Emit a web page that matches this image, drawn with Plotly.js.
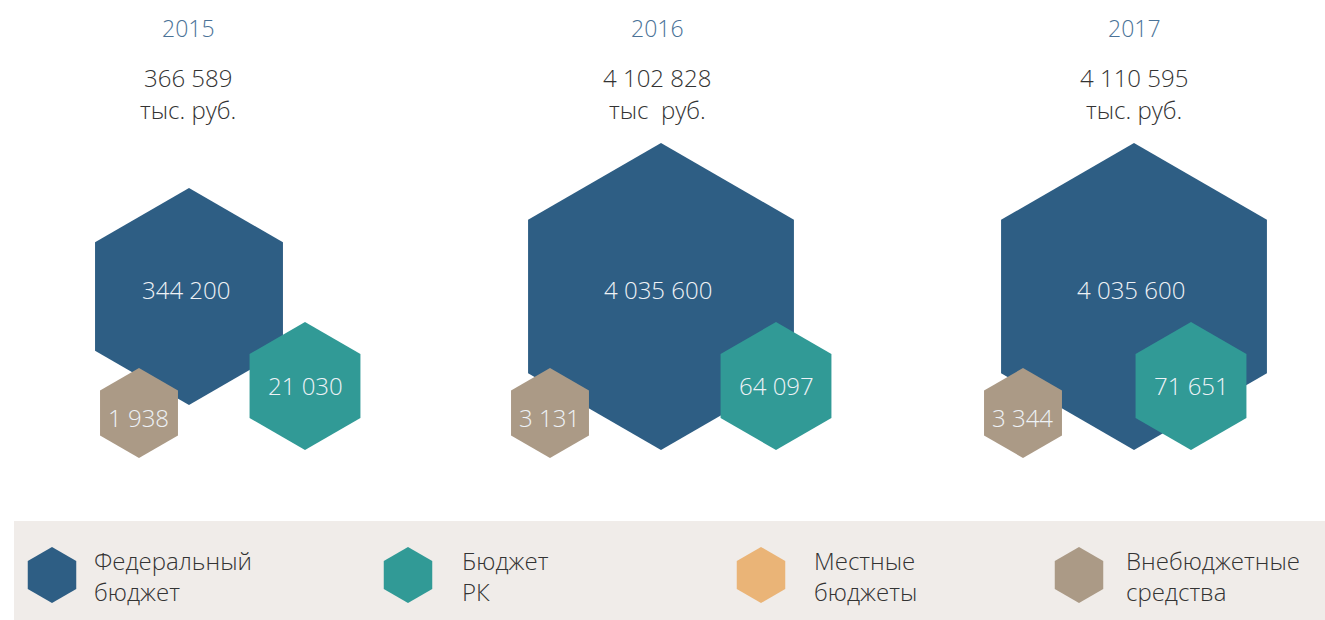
<!DOCTYPE html>
<html>
<head>
<meta charset="utf-8">
<script src="https://cdn.plot.ly/plotly-3.0.1.min.js"></script>
<style>
  html, body { margin: 0; padding: 0; background: #ffffff; }
  #chart { width: 1325px; height: 620px; }
</style>
</head>
<body>
<div id="chart"></div>
<script>
// Funding sources by year, thousand rubles
const years = ['2015', '2016', '2017'];
const totals = [366589, 4102828, 4110595];
const unitLabels = ['тыс. руб.', 'тыс  руб.', 'тыс. руб.'];
const federal = [344200, 4035600, 4035600];
const republic = [21030, 64097, 71651];
const offBudget = [1938, 3131, 3344];
const legendNames = ['Федеральный<br>бюджет', 'Бюджет<br>РК', 'Местные<br>бюджеты', 'Внебюджетные<br>средства'];

// Styling and placement (pixel coordinates on a 1325x620 canvas)
const FONT = '"Open Sans", "Noto Sans", sans-serif';
const colors = {
  federal: '#2e5e84',
  republic: '#319a96',
  local: '#eab477',
  offBudget: '#ab9a86',
  year: '#4a7297',
  text: '#333333',
  legendBg: '#f0ece9'
};
const legendColors = [colors.federal, colors.republic, colors.local, colors.offBudget];
const groupX = [188, 657, 1134];
const fedCenter = [{x: 189, y: 296.5, h: 217}, {x: 661, y: 296.5, h: 307}, {x: 1134, y: 296.5, h: 307}];
const repCenter = [{x: 305, y: 386}, {x: 776, y: 386}, {x: 1191, y: 386}];
const offCenter = [{x: 139, y: 413}, {x: 550, y: 413}, {x: 1023, y: 413}];
const legendHexX = [52, 408, 761, 1079];
const legendTextX = [93, 461, 813, 1125];

function fmt(v) {
  return String(v).replace(/\B(?=(\d{3})+(?!\d))/g, ' ');
}

function hexTrace(xs, ys, sizes, color) {
  return {
    type: 'scatter', mode: 'markers', x: xs, y: ys,
    hoverinfo: 'skip', showlegend: false,
    marker: { symbol: 'hexagon', size: sizes, color: color, opacity: 1, line: { width: 0 } }
  };
}

const traces = [
  hexTrace(fedCenter.map(c => c.x), fedCenter.map(c => c.y), fedCenter.map(c => c.h), colors.federal),
  hexTrace(offCenter.map(c => c.x), offCenter.map(c => c.y), offCenter.map(() => 90), colors.offBudget),
  hexTrace(repCenter.map(c => c.x), repCenter.map(c => c.y), repCenter.map(() => 128), colors.republic),
  hexTrace(legendHexX, legendHexX.map(() => 575), legendHexX.map(() => 56), legendColors)
];

const annotations = [];
function label(x, y, text, size, color, anchor) {
  annotations.push({
    x: x, y: y, xref: 'x', yref: 'y', text: text, showarrow: false,
    xanchor: anchor || 'center', yanchor: 'middle', align: anchor === 'left' ? 'left' : 'center',
    font: { family: FONT, size: size, color: color, weight: 300 }
  });
}

years.forEach((yr, i) => {
  label(groupX[i], 28, yr, 23, colors.year);
  label(groupX[i], 77, fmt(totals[i]), 24, colors.text);
  label(groupX[i], 109, unitLabels[i], 24, colors.text);
  label(fedCenter[i].x - 3, 289, fmt(federal[i]), 24, '#eef2f6');
  label(repCenter[i].x, 385, fmt(republic[i]), 24, '#eef2f6');
  label(offCenter[i].x - 1, 417, fmt(offBudget[i]), 24, '#eef2f6');
});

legendNames.forEach((name, i) => {
  label(legendTextX[i] - 1, 576, name, 24, colors.text, 'left');
});

const layout = {
  width: 1325, height: 620,
  margin: { l: 0, r: 0, t: 0, b: 0 },
  paper_bgcolor: '#ffffff', plot_bgcolor: 'rgba(0,0,0,0)',
  showlegend: false,
  xaxis: { range: [0, 1325], visible: false, fixedrange: true },
  yaxis: { range: [620, 0], visible: false, fixedrange: true },
  shapes: [{
    type: 'rect', xref: 'x', yref: 'y', x0: 14, x1: 1325, y0: 521, y1: 620,
    fillcolor: colors.legendBg, line: { width: 0 }, layer: 'below'
  }],
  annotations: annotations
};

Plotly.newPlot('chart', traces, layout, { displayModeBar: false, staticPlot: true });
</script>
</body>
</html>
